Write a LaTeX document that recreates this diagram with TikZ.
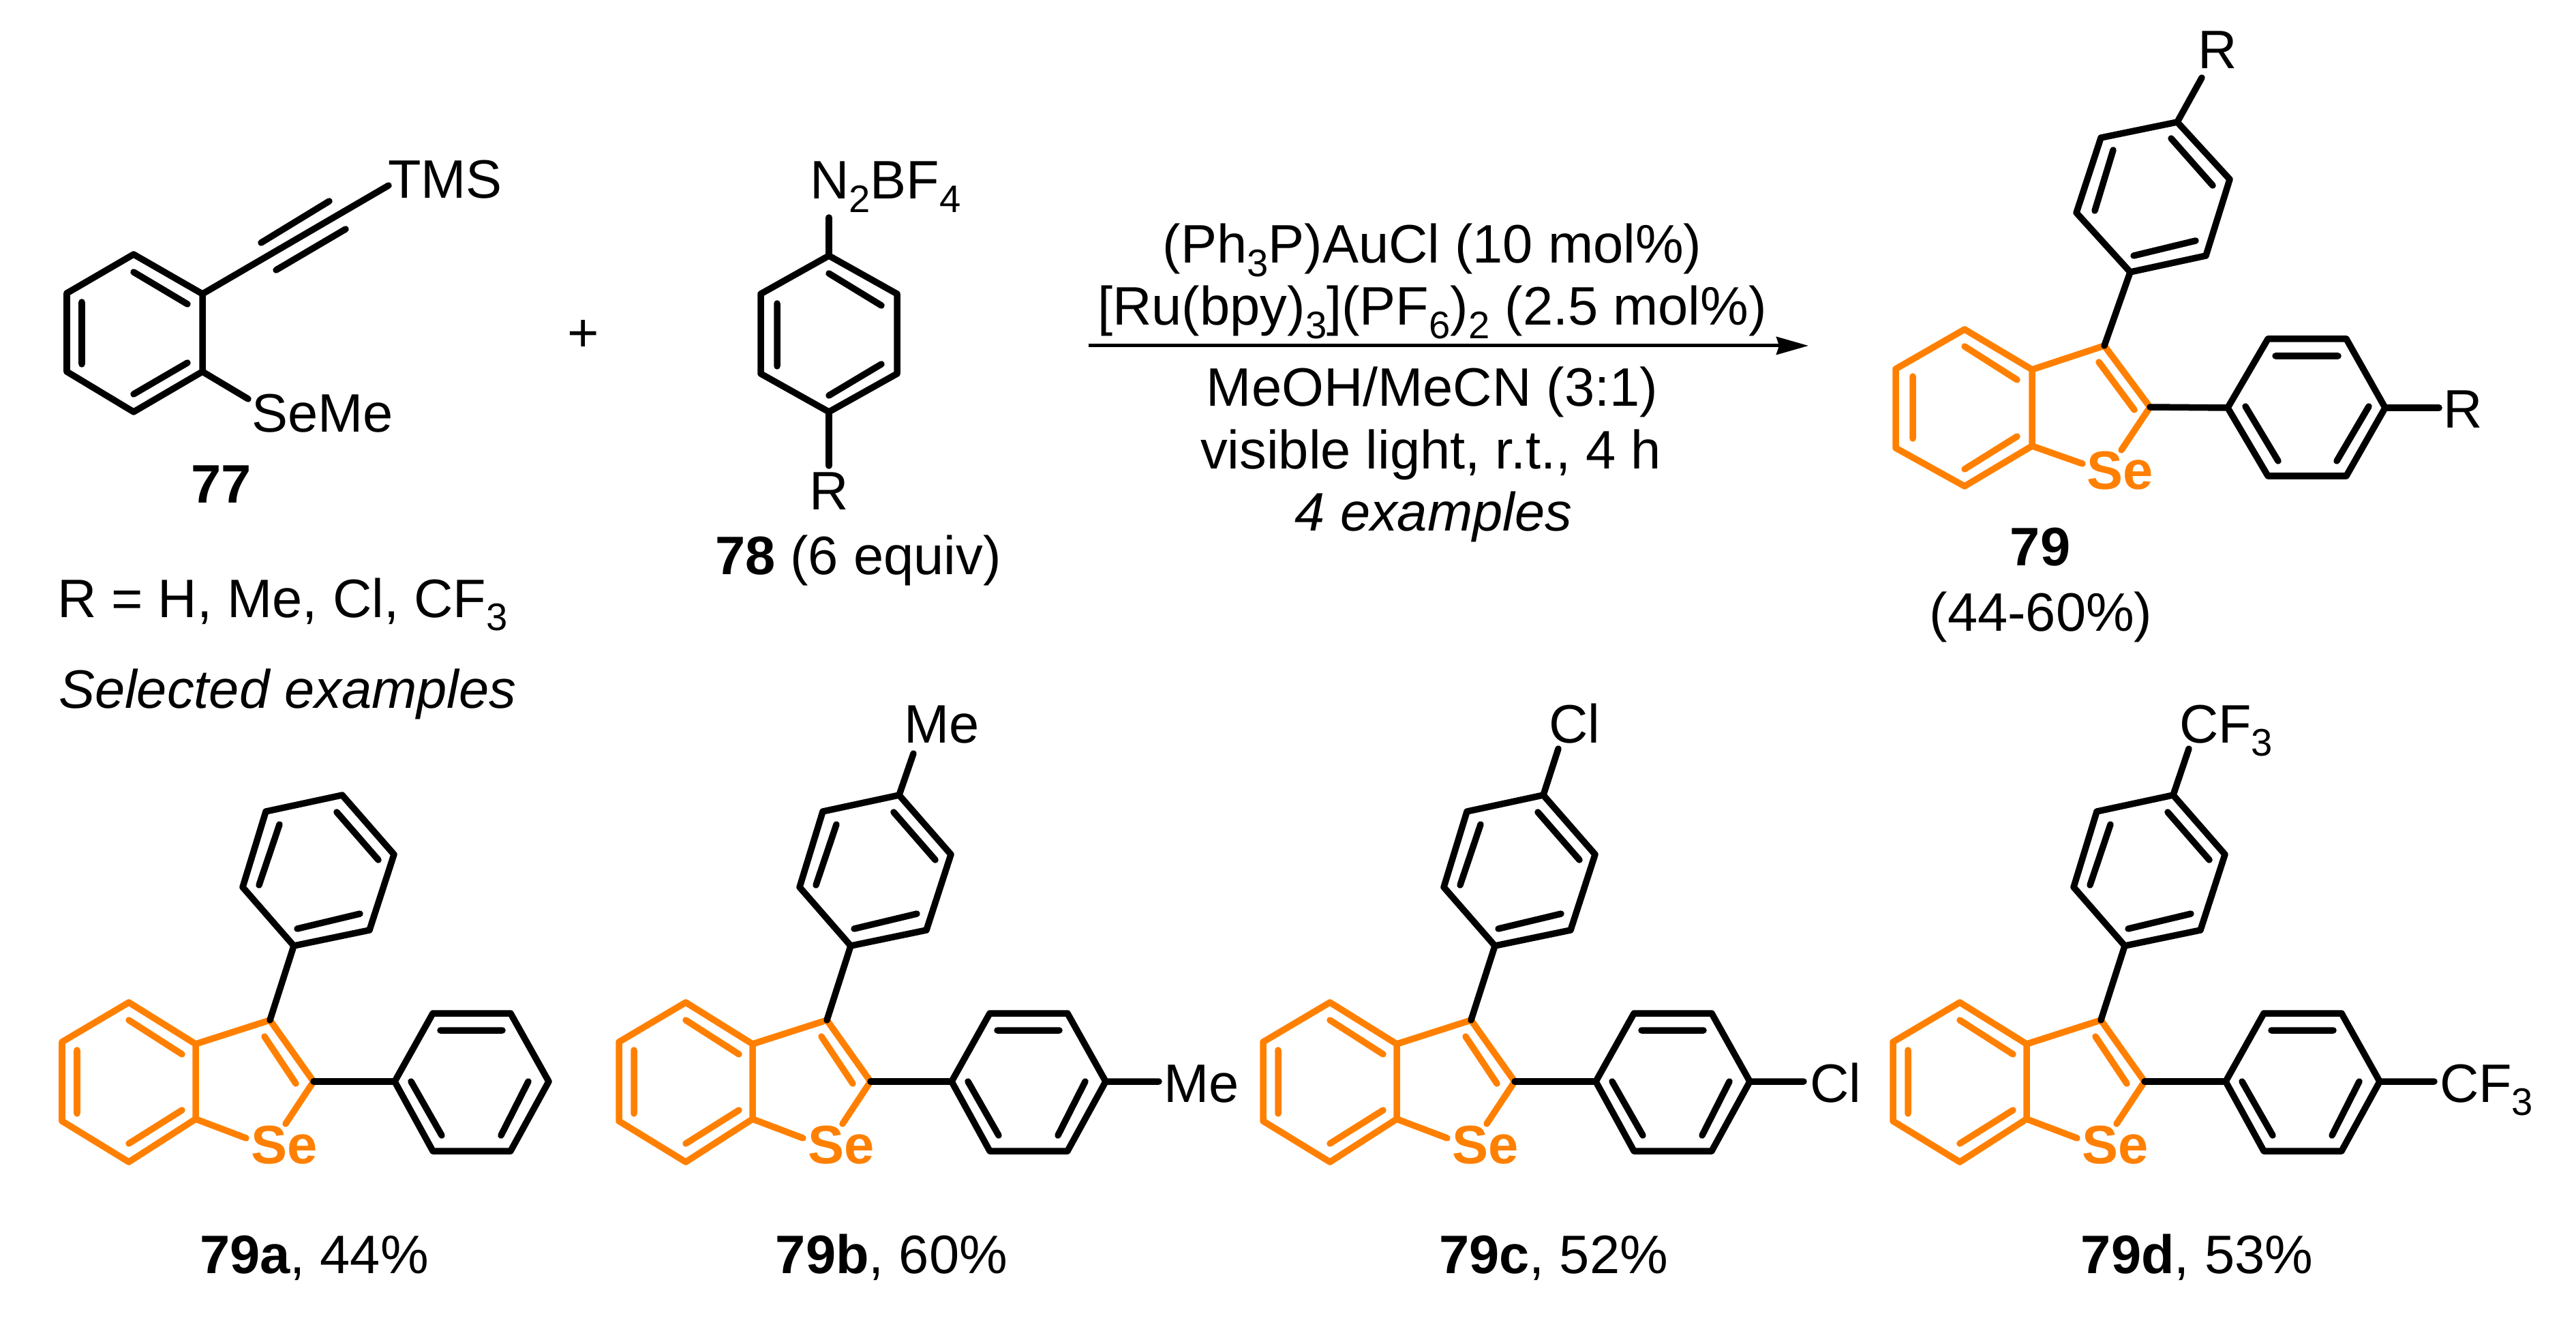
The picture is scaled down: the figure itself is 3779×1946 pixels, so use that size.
\documentclass[tikz,border=0pt]{standalone}
\usepackage{fontspec}
\setmainfont{Liberation Sans}
\usetikzlibrary{arrows.meta}
\definecolor{orng}{HTML}{FF8000}
\newcommand{\fs}{\fontsize{22.6}{27}\selectfont}
\newcommand{\sbs}[1]{\raisebox{-0.24em}{\fontsize{16}{18}\selectfont #1}}
\tikzset{
  bond/.style={line width=0.095cm,line cap=round,line join=round,black},
  obond/.style={bond,draw=orng},
  lblw/.style={anchor=base west,inner sep=0pt,outer sep=0pt,font=\fs},
  lblc/.style={anchor=base,inner sep=0pt,outer sep=0pt,font=\fs},
  sefont/.style={anchor=base,inner sep=0pt,outer sep=0pt,font=\fs\bfseries,text=orng},
  rxnarrow/.style={line width=0.05cm,-{Stealth[length=0.47cm,width=0.26cm,inset=0.04cm]}}
}
% product scaffold used by the selected examples
\newcommand{\prodcore}[2]{%
\begin{scope}[shift={(#2,0)}]
  \coordinate (#1a) at (189,1470); \coordinate (#1b) at (287,1531);
  \coordinate (#1c) at (287,1641); \coordinate (#1d) at (189,1704);
  \coordinate (#1e) at (91,1644);  \coordinate (#1f) at (91,1528);
  \coordinate (#1g) at (396,1496); \coordinate (#1h) at (460,1586);
  \coordinate (#1s1) at (419,1648); \coordinate (#1s2) at (361,1669);
  \draw[obond] (#1a)--(#1b)--(#1c)--(#1d)--(#1e)--(#1f)--cycle;
  \draw[obond] (189,1496)--(267,1546) (113,1540)--(113,1633) (189,1677)--(267,1628);
  \draw[obond] (#1b)--(#1g)--(#1h)--(#1s1) (#1c)--(#1s2) (388,1520)--(434,1589);
  \node[sefont] (#1se) at (417,1706) {Se};
  \coordinate (#1t1) at (431,1387); \coordinate (#1t2) at (542,1364);
  \coordinate (#1t3) at (578,1253); \coordinate (#1t4) at (502,1166);
  \coordinate (#1t5) at (390,1190); \coordinate (#1t6) at (356,1301);
  \draw[bond] (#1g)--(#1t1);
  \draw[bond] (#1t1)--(#1t2)--(#1t3)--(#1t4)--(#1t5)--(#1t6)--cycle;
  \draw[bond] (436,1362)--(528,1340) (410,1209)--(380,1298) (494,1191)--(555,1261);
  \coordinate (#1r1) at (579,1586); \coordinate (#1r2) at (635,1486);
  \coordinate (#1r3) at (749,1486); \coordinate (#1r4) at (805,1586);
  \coordinate (#1r5) at (749,1688); \coordinate (#1r6) at (635,1688);
  \draw[bond] (#1h)--(#1r1);
  \draw[bond] (#1r1)--(#1r2)--(#1r3)--(#1r4)--(#1r5)--(#1r6)--cycle;
  \draw[bond] (646,1511)--(737,1511) (603,1586)--(648,1665) (775,1586)--(735,1665);
\end{scope}}
\begin{document}
\begin{tikzpicture}[x=0.01cm,y=-0.01cm]
\useasboundingbox (0,0) rectangle (3779,1946);
\fill[white] (0,0) rectangle (3779,1946);

% --- 77 ---
\coordinate (a1) at (196,373); \coordinate (a2) at (297,431);
\coordinate (a3) at (297,545); \coordinate (a4) at (196,604);
\coordinate (a5) at (98,545);  \coordinate (a6) at (98,430);
\coordinate (atms) at (570,272); \coordinate (ase) at (364,585);
\draw[bond] (a1)--(a2)--(a3)--(a4)--(a5)--(a6)--cycle;
\draw[bond] (196,399)--(275,446) (120,443)--(120,534) (196,578)--(275,532);
\draw[bond] (a2)--(atms) (383,356)--(483,295) (405,396)--(507,336);
\draw[bond] (a3)--(ase);
\node[lblw] (tms) at (569,291) {TMS};
\node[lblw] (seme) at (369,634) {SeMe};
\node[lblc] (n77) at (325,738) {\bfseries 77};
\node[lblc] (plus) at (856,516) {+};

% --- 78 ---
\coordinate (b1) at (1216,375); \coordinate (b2) at (1316,431);
\coordinate (b3) at (1316,548); \coordinate (b4) at (1216,604);
\coordinate (b5) at (1116,548); \coordinate (b6) at (1116,431);
\coordinate (bn) at (1216,319); \coordinate (br) at (1216,683);
\draw[bond] (b1)--(b2)--(b3)--(b4)--(b5)--(b6)--cycle;
\draw[bond] (1216,401)--(1293,448) (1140,445)--(1140,537) (1216,580)--(1293,534);
\draw[bond] (b1)--(bn) (b4)--(br);
\node[lblw] (n2bf4) at (1188,292) {N\sbs{2}BF\sbs{4}};
\node[lblc] (r78) at (1216,748) {R};
\node[lblw] (n78) at (1049,842) {{\bfseries 78} (6 equiv)};
\node[lblw] (rdef) at (84,905) {R = H, Me, Cl, CF\sbs{3}};
\node[lblw] (sel) at (86,1038) {\itshape Selected examples};

% --- conditions ---
\node[lblc] (c1) at (2101,386) {(Ph\sbs{3}P)AuCl (10 mol\%)};
\node[lblc] (c2) at (2101,477) {[Ru(bpy)\sbs{3}](PF\sbs{6})\sbs{2} (2.5 mol\%)};
\coordinate (arr1) at (1597,507); \coordinate (arr2) at (2653,507);
\draw[rxnarrow] (arr1)--(arr2);
\node[lblc] (c3) at (2101,596) {MeOH/MeCN (3:1)};
\node[lblc] (c4) at (2099,687) {visible light, r.t., 4 h};
\node[lblc] (c5) at (2103,778) {\itshape 4 examples};

% --- 79 ---
\coordinate (p1) at (2882,483); \coordinate (p2) at (2981,542);
\coordinate (p3) at (2981,654); \coordinate (p4) at (2882,713);
\coordinate (p5) at (2781,657); \coordinate (p6) at (2781,541);
\coordinate (p7) at (3087,507); \coordinate (p8) at (3154,597);
\coordinate (pse1) at (3112,660); \coordinate (pse2) at (3055,680);
\draw[obond] (p1)--(p2)--(p3)--(p4)--(p5)--(p6)--cycle;
\draw[obond] (2882,508)--(2959,557) (2806,552)--(2806,643) (2882,688)--(2959,640);
\draw[obond] (p2)--(p7)--(p8)--(pse1) (p3)--(pse2) (3079,531)--(3131,601);
\node[sefont] (pse) at (3110,717) {Se};
\coordinate (q1) at (3125,399); \coordinate (q2) at (3236,375);
\coordinate (q3) at (3271,263); \coordinate (q4) at (3194,179);
\coordinate (q5) at (3082,202); \coordinate (q6) at (3046,312);
\coordinate (qr) at (3230,114);
\draw[bond] (p7)--(q1);
\draw[bond] (q1)--(q2)--(q3)--(q4)--(q5)--(q6)--cycle;
\draw[bond] (3130,375)--(3221,353) (3185,203)--(3246,272) (3100,220)--(3073,309);
\draw[bond] (q4)--(qr);
\node[lblc] (rtop) at (3253,101) {R};
\coordinate (s1) at (3268,598); \coordinate (s2) at (3327,497);
\coordinate (s3) at (3442,497); \coordinate (s4) at (3499,598);
\coordinate (s5) at (3442,698); \coordinate (s6) at (3327,698);
\coordinate (sr) at (3578,598);
\draw[bond] (p8)--(s1);
\draw[bond] (s1)--(s2)--(s3)--(s4)--(s5)--(s6)--cycle;
\draw[bond] (3338,522)--(3430,522) (3294,596)--(3342,676) (3475,596)--(3428,676);
\draw[bond] (s4)--(sr);
\node[lblc] (rright) at (3613,628) {R};
\node[lblc] (n79) at (2993,829) {\bfseries 79};
\node[lblc] (y79) at (2994,925) {(44-60\%)};

% --- selected examples ---
\prodcore{u}{0}
\prodcore{v}{817}
\prodcore{w}{1762}
\prodcore{z}{2686}

\coordinate (vme1) at (1340,1105); \coordinate (vme2) at (1700,1586);
\draw[bond] (vt4)--(vme1) (vr4)--(vme2);
\node[lblw] (meu) at (1326,1089) {Me};
\node[lblw] (mer) at (1707,1616) {Me};

\coordinate (wcl1) at (2286,1098); \coordinate (wcl2) at (2646,1586);
\draw[bond] (wt4)--(wcl1) (wr4)--(wcl2);
\node[lblw] (clu) at (2272,1089) {Cl};
\node[lblw] (clr) at (2655,1616) {Cl};

\coordinate (zcf1) at (3211,1098); \coordinate (zcf2) at (3571,1586);
\draw[bond] (zt4)--(zcf1) (zr4)--(zcf2);
\node[lblw] (cfu) at (3197,1089) {CF\sbs{3}};
\node[lblw] (cfr) at (3579,1616) {CF\sbs{3}};

\node[lblc] (l79a) at (461,1867) {{\bfseries 79a}, 44\%};
\node[lblc] (l79b) at (1308,1867) {{\bfseries 79b}, 60\%};
\node[lblc] (l79c) at (2279,1867) {{\bfseries 79c}, 52\%};
\node[lblc] (l79d) at (3223,1867) {{\bfseries 79d}, 53\%};
\end{tikzpicture}
\end{document}
